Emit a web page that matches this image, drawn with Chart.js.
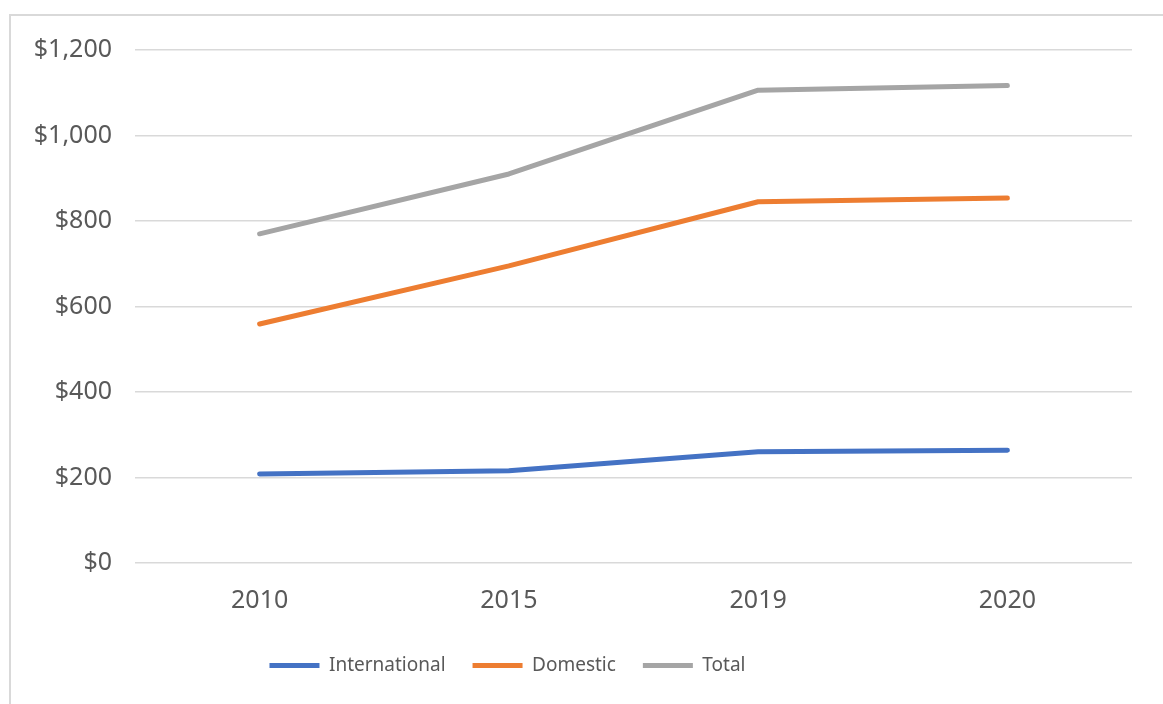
<!DOCTYPE html>
<html lang="en">
<head>
<meta charset="UTF-8">
<title>International vs Domestic</title>
<script src="https://cdn.jsdelivr.net/npm/chart.js"></script>
<style>
  html, body { margin: 0; padding: 0; background: #fff; overflow: hidden; }
  #frame {
    position: absolute; left: 9px; top: 14px;
    width: 1160px; height: 700px;
    border-left: 2px solid #d9d9d9; border-top: 2px solid #d9d9d9;
  }
  #box { position: absolute; left: 0; top: 0; width: 1152px; height: 688px; }
</style>
</head>
<body>
<div id="frame">
  <div id="box"><canvas id="myChart"></canvas></div>
</div>
<script>
// data
const years = ['2010', '2015', '2019', '2020'];
const international = [208, 216, 260, 264];
const domestic = [559, 695, 845, 854];
const total = [770, 910, 1106, 1117];
const yTicks = [0, 200, 400, 600, 800, 1000, 1200];

const FONT = "'Noto Sans', 'Open Sans', sans-serif";

// nudge the legend to where the original sits (left of centre)
const legendNudge = {
  id: 'legendNudge',
  afterLayout(chart) {
    const lg = chart.legend;
    const dx = -64, dy = -10;
    lg.left += dx; lg.right += dx;
    lg.top += dy; lg.bottom += dy;
  }
};

function line(label, data, color) {
  return {
    label: label,
    data: data,
    borderColor: color,
    backgroundColor: color,
    borderWidth: 5,
    borderCapStyle: 'round',
    borderJoinStyle: 'round',
    pointRadius: 0,
    pointHoverRadius: 0,
    pointStyle: 'line',
    tension: 0,
    fill: false
  };
}

window.onload = function () {
  const ctx = document.getElementById('myChart').getContext('2d');
  new Chart(ctx, {
    type: 'line',
    data: {
      labels: years,
      datasets: [
        line('International', international, '#4472C4'),
        line('Domestic', domestic, '#ED7D31'),
        line('Total', total, '#A5A5A5')
      ]
    },
    options: {
      responsive: true,
      maintainAspectRatio: false,
      animation: false,
      layout: { padding: { top: 34, right: 31, bottom: 9, left: 0 } },
      scales: {
        x: {
          offset: true,
          grid: { display: false, drawTicks: false },
          border: { display: false },
          ticks: { color: '#595959', font: { family: FONT, size: 25 }, padding: 23 }
        },
        y: {
          min: 0,
          max: 1200,
          afterFit(scale) {
            scale.width = 124;
            // tick padding is meant sideways only
            scale.paddingTop = 15;
            scale.paddingBottom = 15;
          },
          afterBuildTicks(scale) { scale.ticks = yTicks.map(v => ({ value: v })); },
          grid: { color: '#d9d9d9', lineWidth: 1.5, drawTicks: false },
          border: { display: false },
          ticks: {
            color: '#595959',
            font: { family: FONT, size: 25 },
            padding: 23,
            callback: v => '$' + v.toLocaleString('en-US')
          }
        }
      },
      plugins: {
        legend: {
          position: 'bottom',
          labels: {
            usePointStyle: true,
            pointStyleWidth: 50,
            boxHeight: 19,
            padding: 27,
            color: '#595959',
            font: { family: FONT, size: 19 }
          }
        },
        tooltip: { enabled: false }
      }
    },
    plugins: [legendNudge]
  });
};
</script>
</body>
</html>
